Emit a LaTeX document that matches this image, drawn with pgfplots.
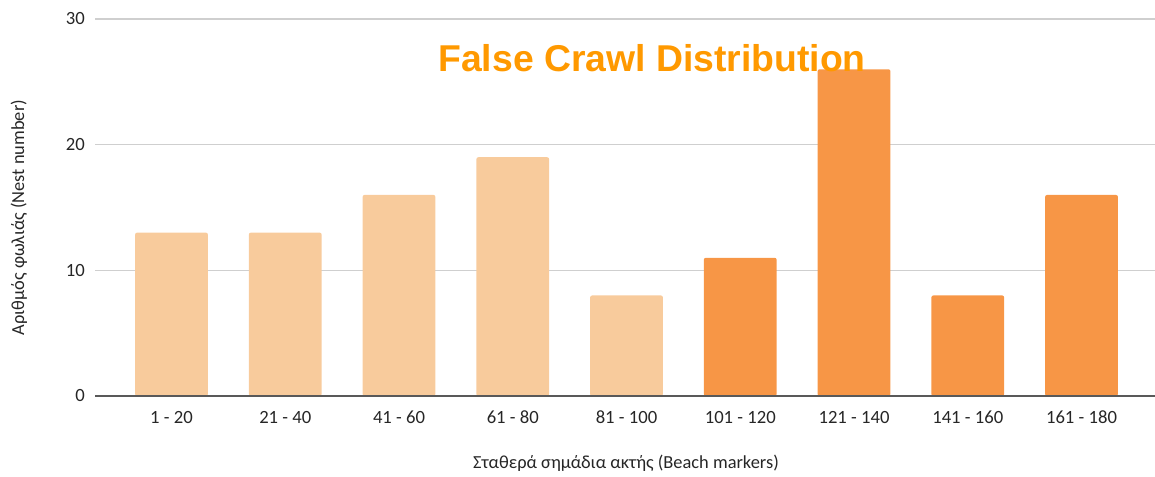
\documentclass[border=0pt]{standalone}
\usepackage{pgfplots}
\pgfplotsset{compat=1.18}
\usepackage{fontspec}
\setmainfont{Carlito}
\newfontfamily\titlefont{Liberation Sans}
\definecolor{lightbar}{HTML}{F8CB9C}
\definecolor{darkbar}{HTML}{F79646}
\definecolor{titleorange}{HTML}{FF9900}
\definecolor{gridgray}{HTML}{CFCFCF}
\definecolor{axisgray}{HTML}{595959}
\definecolor{txt}{HTML}{262626}
\begin{document}
\begin{tikzpicture}
\useasboundingbox (0,0) rectangle (866.25pt,357.75pt);
\begin{axis}[
  at={(71.25pt,60.75pt)}, anchor=south west,
  scale only axis,
  width=795pt, height=282.75pt,
  xmin=-0.6725, xmax=8.646,
  ymin=0, ymax=30,
  ytick={0,10,20,30},
  xtick={0,...,8},
  xticklabels={1 - 20,21 - 40,41 - 60,61 - 80,81 - 100,101 - 120,121 - 140,141 - 160,161 - 180},
  major tick length=0pt,
  axis line style={draw=none},
  ymajorgrids,
  grid style={gridgray, line width=1.1pt},
  /pgf/number format/assume math mode=true,
  tick label style={font=\fontsize{14}{16}\selectfont, text=txt, inner sep=0pt},
  yticklabel style={anchor=east, xshift=-7.5pt},
  xticklabel style={anchor=north, yshift=-11pt},
  ybar, bar width=0.64, bar shift=0pt,
  clip=false,
]
\addplot[fill=lightbar, draw=none, rounded corners=1.5pt] coordinates {(0,13) (1,13) (2,16) (3,19) (4,8)};
\addplot[fill=darkbar, draw=none, rounded corners=1.5pt] coordinates {(5,11) (6,26) (7,8) (8,16)};
\draw[axisgray, line width=1.5pt] (rel axis cs:0,0) -- (rel axis cs:1,0);
\end{axis}
\node[anchor=base, inner sep=0pt, text=titleorange, font=\titlefont\bfseries\fontsize{28}{32}\selectfont] at (489pt,303.75pt) {False Crawl Distribution};
\node[anchor=base, inner sep=0pt, text=txt, font=\fontsize{13.8}{16}\selectfont] at (469.5pt,6.5pt) {Σταθερά σημάδια ακτής (Beach markers)};
\node[anchor=base, rotate=90, inner sep=0pt, text=txt, font=\fontsize{13.8}{16}\selectfont] at (18pt,194.6pt) {Αριθμός φωλιάς (Nest number)};
\end{tikzpicture}
\end{document}
